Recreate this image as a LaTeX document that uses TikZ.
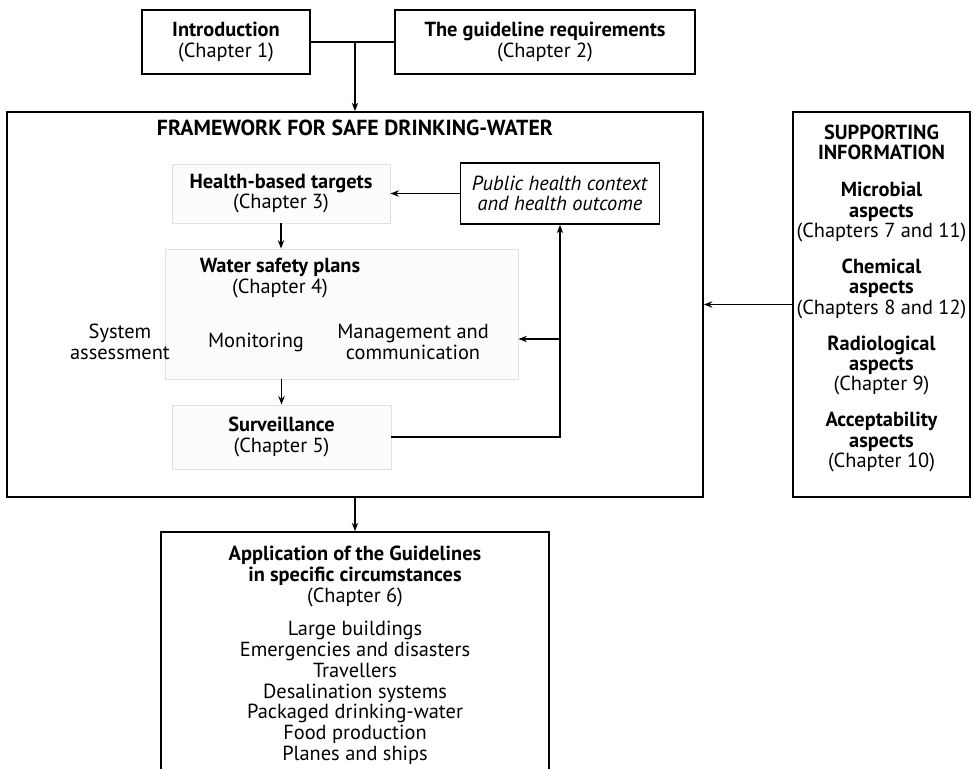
\documentclass[tikz,border=0pt]{standalone}
\usepackage{fontspec}
\setmainfont{PT Sans}
\usetikzlibrary{arrows.meta, positioning}
\tikzset{
    chapterbox/.style={
        rectangle, draw=black, line width=1.1pt,
        align=center, fill=white, inner sep=2pt,
        font=\fontsize{14.5}{14.5}\selectfont
    },
    partbox/.style={
        rectangle, draw=black!12, line width=0.6pt,
        align=center, fill=black!1, inner sep=2pt,
        font=\fontsize{14.5}{14.5}\selectfont
    },
    panelbox/.style={rectangle, draw=black, line width=1.1pt},
    plain/.style={align=center, font=\fontsize{14.5}{14.5}\selectfont},
    heading/.style={align=center, font=\fontsize{15.5}{15.5}\selectfont\bfseries},
    wire/.style={draw=black, line width=1pt, -{Stealth[length=6pt, width=4.5pt]}},
    link/.style={draw=black, line width=1pt}
}

\begin{document}
\begin{tikzpicture}[x=0.025cm, y=-0.025cm]
\useasboundingbox (0,0) rectangle (974,769);

% Opening chapters
\node[chapterbox, minimum width=4.2cm, minimum height=1.6cm] (intro) at (226,42)
    {\textbf{Introduction}\\(Chapter 1)};
\node[chapterbox, minimum width=7.5cm, minimum height=1.6cm] (guide) at (545,42)
    {\textbf{The guideline requirements}\\(Chapter 2)};

% Framework
\node[panelbox, minimum width=17.4cm, minimum height=9.625cm] (frame) at (355,304.5) {};
\node[heading, below=3pt of frame.north] (title) {FRAMEWORK FOR SAFE DRINKING-WATER};

\coordinate (join) at (intro.east -| frame.north);
\draw[link] (intro.east) -- (guide.west);
\draw[wire] (join) -- (frame.north);

\node[partbox, minimum width=5.45cm, minimum height=1.475cm] (targets) at (281,193.5)
    {\textbf{Health-based targets}\\(Chapter 3)};
\node[chapterbox, minimum width=4.975cm, minimum height=1.525cm] (context) at (560,193.5)
    {\textit{Public health context}\\\textit{and health outcome}};

\node[partbox, minimum width=8.825cm, minimum height=3.25cm] (wsp) at (341.5,314) {};
\node[plain] (wsptitle) at (280,278) {\textbf{Water safety plans}\\(Chapter 4)};
\node[plain] (sysassess) at (120,342) {System\\assessment};
\node[plain] (monitor) at (256,342) {Monitoring};
\node[plain] (manage) at (413,342) {Management and\\communication};

\node[partbox, minimum width=5.475cm, minimum height=1.6cm] (surv) at (281.5,437)
    {\textbf{Surveillance}\\(Chapter 5)};

\draw[wire] (context.west) -- (targets.east);
\draw[wire] (targets.south) -- (targets.south |- wsp.north);
\draw[wire] (surv.north |- wsp.south) -- (surv.north);
\draw[wire] (surv.east) -| (context.south);
\coordinate (tap) at (context.south |- 0,339);
\draw[wire] (tap) -- (wsp.east |- tap);

% Supporting information
\node[panelbox, minimum width=4.425cm, minimum height=9.625cm] (supp) at (881.5,304.5) {};
\node[plain, below=6pt of supp.north] (suppinfo)
    {\textbf{SUPPORTING}\\\textbf{INFORMATION}\\[12pt]
     \textbf{Microbial}\\\textbf{aspects}\\(Chapters 7 and 11)\\[11pt]
     \textbf{Chemical}\\\textbf{aspects}\\(Chapters 8 and 12)\\[11pt]
     \textbf{Radiological}\\\textbf{aspects}\\(Chapter 9)\\[11pt]
     \textbf{Acceptability}\\\textbf{aspects}\\(Chapter 10)};
\draw[wire] (supp.west) -- (frame.east);

% Application
\node[panelbox, minimum width=9.7cm, minimum height=6.45cm] (app) at (355,661) {};
\node[plain, below=7pt of app.north, font=\fontsize{14.5}{14.8}\selectfont] (appinfo)
    {\textbf{Application of the Guidelines}\\\textbf{in specific circumstances}\\(Chapter 6)\\[9pt]
     Large buildings\\Emergencies and disasters\\Travellers\\Desalination systems\\
     Packaged drinking-water\\Food production\\Planes and ships};
\draw[wire] (frame.south) -- (app.north);

\end{tikzpicture}
\end{document}
